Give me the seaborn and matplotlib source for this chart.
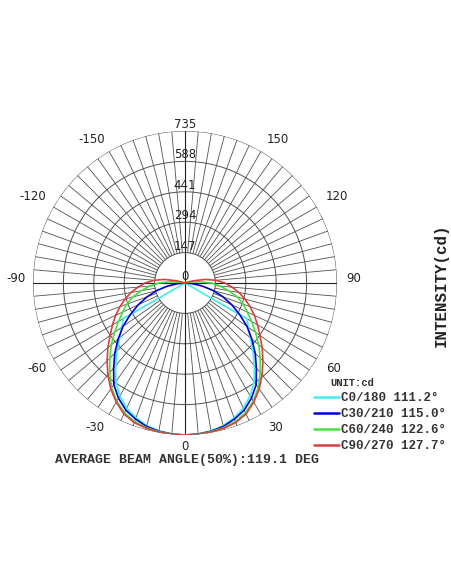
import numpy as np
import pandas as pd
import matplotlib
matplotlib.use("Agg")
import matplotlib.pyplot as plt
import seaborn as sns
from matplotlib.lines import Line2D

# 配光曲线数据：gamma 角（度）与光强（cd），单侧读数，另一侧镜像
gamma = [0, 5, 10, 15, 20, 25, 30, 35, 40, 45, 50, 55, 60, 65, 70, 75, 80, 85, 90, 95, 100, 105, 110]
c0_180 = [735, 733, 726, 714, 694, 668, 630, 584, 522, 464, 412, 374, 345,
          None, None, None, None, None, None, None, None, None, None]
c30_210 = [735, 733, 728, 718, 700, 678, 643, 600, 537, 480, 422, 366, 305,
           250, 195, 142, 85, 35, 0, None, None, None, None]
c60_240 = [735, 734, 730, 724, 713, 692, 660, 618, 566, 514, 466, 416, 372,
           332, 300, 262, 215, 170, 128, 70, 20, 0, None]
c90_270 = [735, 735, 732, 727, 718, 699, 665, 626, 580, 533, 487, 442, 405,
           370, 335, 300, 265, 228, 193, 150, 100, 40, 0]
# C0/180 在 60° 处直接回到 0（图中径向斜线）
c0_drop = 60

series_names = ["C0/180", "C30/210", "C60/240", "C90/270"]
beam_angles = ["111.2°", "115.0°", "122.6°", "127.7°"]
colors = ["#40eef2", "#0000d0", "#44e044", "#d84040"]

r_ticks = [147, 294, 441, 588, 735]
angle_ticks = [-150, -120, -90, -60, -30, 0, 30, 60, 90, 120, 150]
# 角度标签位置（度, cd）
angle_label_pos = {150: (147, 827), 120: (119.5, 846), 90: (91.4, 817),
                   60: (60, 827), 30: (32, 822), 0: (0, 790)}


def build_path(values, drop=None):
    pts = [(g, v) for g, v in zip(gamma, values) if v is not None]
    if drop is not None:
        pts = pts + [(drop, 0)]
    left = [(-g, v) for g, v in reversed(pts) if g != 0]
    return left + pts


rows = []
for name, vals in zip(series_names, [c0_180, c30_210, c60_240, c90_270]):
    drop = c0_drop if name == "C0/180" else None
    for g, v in build_path(vals, drop):
        rows.append({"series": name, "theta": np.deg2rad(g), "cd": v})
df = pd.DataFrame(rows)

sns.set_style("white")
plt.rcParams["font.family"] = ["DejaVu Sans"]

fig = plt.figure(figsize=(4.52, 5.84), dpi=100)
ax = fig.add_axes([33 / 452, 1 - 435 / 584, 304 / 452, 304 / 584], projection="polar")
ax.set_theta_zero_location("S")
ax.set_theta_direction(1)
ax.set_ylim(0, 735)
ax.grid(False)
ax.set_xticks([])
ax.set_yticks([])
ax.spines["polar"].set_visible(False)
ax.patch.set_alpha(0)

# 网格：圆环 + 5° 辐射线
full = np.linspace(0, 2 * np.pi, 721)
for rv in r_ticks:
    ax.plot(full, np.full_like(full, rv), color="#505050", lw=0.7, zorder=1)
for a in range(0, 360, 5):
    t = np.deg2rad(a)
    if a % 90 == 0:
        ax.plot([t, t], [0, 735], color="#222222", lw=0.8, zorder=1)
    else:
        ax.plot([t, t], [147, 735], color="#505050", lw=0.6, zorder=1)

sns.lineplot(data=df, x="theta", y="cd", hue="series", palette=colors,
             sort=False, estimator=None, units="series", lw=1.2,
             legend=False, ax=ax, zorder=3)
ax.set_xlabel("")
ax.set_ylabel("")

# 强度刻度标签
ax.text(np.pi, 0, "0", ha="center", va="bottom", fontsize=8.5, color="#222222", zorder=4)
for rv in r_ticks:
    ax.text(np.pi, rv, str(rv), ha="center", va="bottom", fontsize=8.5, color="#222222",
            zorder=4, clip_on=False)
# 角度标签
for a in angle_ticks:
    deg, rr = angle_label_pos[abs(a)]
    sign = -1 if a < 0 else 1
    ax.text(np.deg2rad(sign * deg), rr, str(a), ha="center", va="center", fontsize=8.5,
            color="#222222", clip_on=False)

mono = ["Liberation Mono", "DejaVu Sans Mono"]
fig.text(187 / 452, 1 - 460 / 584, "AVERAGE BEAM ANGLE(50%):119.1 DEG", ha="center",
         va="center", fontsize=9.5, family=mono, weight="bold", color="#333333")
fig.text(441 / 452, 1 - 285 / 584, "INTENSITY(cd)", rotation=90, ha="center", va="center",
         fontsize=11.4, family=mono, weight="bold", color="#222222")
fig.text(352 / 452, 1 - 383 / 584, "UNIT:cd", ha="center", va="center",
         fontsize=7.6, family=mono, weight="bold", color="#333333")

handles = [Line2D([0], [0], color=c, lw=1.8) for c in colors]
labels = [f"{n} {b}" for n, b in zip(series_names, beam_angles)]
fig.legend(handles, labels, loc="upper left", bbox_to_anchor=(314 / 452, 1 - 392 / 584),
           frameon=False, borderpad=0, borderaxespad=0, handlelength=2.0,
           handletextpad=0.15, labelspacing=0.33,
           prop={"family": mono, "weight": "bold", "size": 9.0}, labelcolor="#333333")

fig.savefig("out.png", dpi=100, facecolor="white")
